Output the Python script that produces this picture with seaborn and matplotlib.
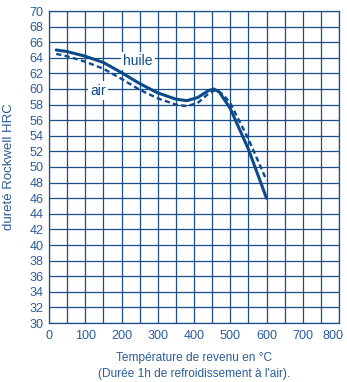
import matplotlib
matplotlib.use("Agg")
import matplotlib.pyplot as plt
import matplotlib.transforms as mtransforms
import seaborn as sns
import pandas as pd
import numpy as np

# Tempering curves: hardness vs tempering temperature
temp_huile = [20, 50, 100, 150, 200, 250, 300, 350, 380, 410, 440, 455, 470, 500, 550, 600]
hrc_huile = [65.0, 64.8, 64.2, 63.4, 62.1, 60.7, 59.5, 58.7, 58.5, 58.9, 59.8, 60.0, 59.6, 57.5, 52.3, 46.0]

temp_air = [20, 50, 100, 150, 200, 250, 300, 350, 380, 410, 440, 460, 480, 500, 550, 600]
hrc_air = [64.5, 64.2, 63.5, 62.6, 61.3, 59.9, 58.8, 58.0, 57.8, 58.2, 59.4, 59.9, 59.3, 58.2, 53.6, 48.3]

x_ticks = list(range(0, 801, 100))
y_ticks = list(range(30, 71, 2))

line_col = "#0d4a8c"
grid_col = "#1c4f8a"
text_col = "#2b5c9c"

sns.set_theme(style="white")
plt.rcParams["font.family"] = ["Liberation Sans", "DejaVu Sans"]

fig = plt.figure(figsize=(3.47, 3.82), dpi=100)
ax = fig.add_axes([49 / 347, 59 / 382, 290 / 347, 312 / 382])

df_h = pd.DataFrame({"temp": temp_huile, "hrc": hrc_huile})
df_a = pd.DataFrame({"temp": temp_air, "hrc": hrc_air})

sns.lineplot(data=df_a, x="temp", y="hrc", ax=ax, color=line_col, lw=1.7,
             linestyle=(0, (2.2, 1.4)), zorder=3)
sns.lineplot(data=df_h, x="temp", y="hrc", ax=ax, color=line_col, lw=2.2, zorder=4)

ax.set_xlim(0, 800)
ax.set_ylim(30, 70)
ax.set_xticks(x_ticks)
ax.set_yticks(y_ticks)
ax.set_xticks(np.arange(0, 801, 50), minor=True)
ax.grid(True, which="both", color=grid_col, lw=0.9)
ax.set_axisbelow(True)
for s in ax.spines.values():
    s.set_color(grid_col)
    s.set_linewidth(0.9)

ax.tick_params(axis="both", which="both", length=0, labelsize=9.1, colors=text_col, pad=4)
ax.tick_params(axis="x", pad=5)

# nudge the last x tick label inward so it stays inside the figure
fig.canvas.draw()
last = ax.get_xticklabels()[-1]
last.set_transform(last.get_transform() +
                   mtransforms.ScaledTranslation(-6 / 100, 0, fig.dpi_scale_trans))

ax.set_xlabel("Température de revenu en °C\n(Durée 1h de refroidissement à l'air).",
              color=text_col, fontsize=8.6, labelpad=7, linespacing=1.45)
ax.set_ylabel("dureté Rockwell HRC", color=text_col, fontsize=9.5)
ax.yaxis.set_label_coords(-0.118, 0.5)

box = dict(facecolor="white", edgecolor="none", pad=1.5)
ax.text(245, 63.6, "huile", color=line_col, fontsize=10, ha="center", va="center", bbox=box, zorder=5)
ax.text(135, 59.8, "air", color=line_col, fontsize=10, ha="center", va="center", bbox=box, zorder=5)

fig.savefig("out.png", dpi=100)
